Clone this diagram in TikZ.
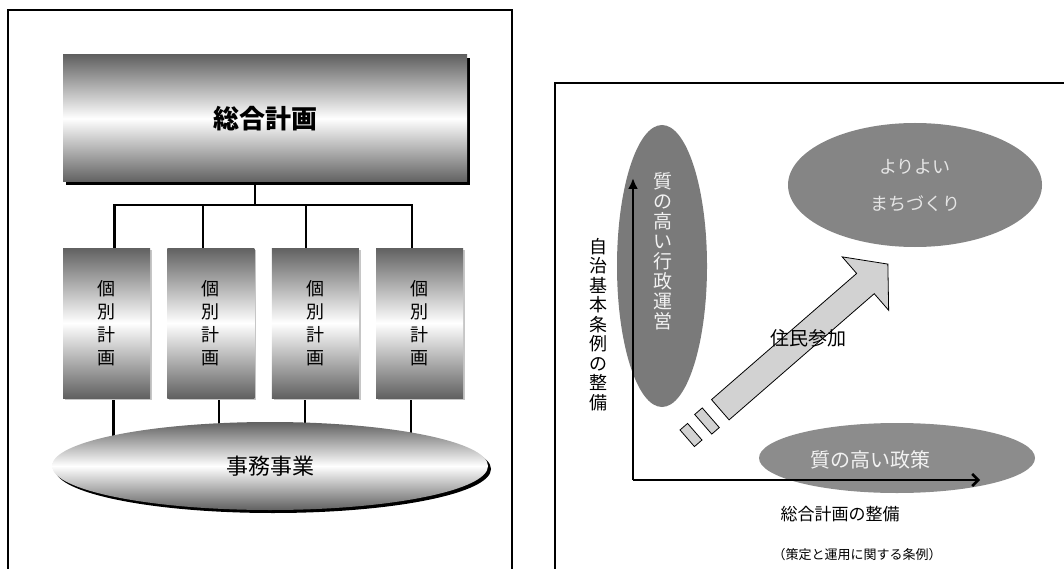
\documentclass[tikz,border=0pt]{standalone}
\usepackage{fontspec}
\newfontfamily\jp{Noto Sans CJK JP}
\usetikzlibrary{positioning,arrows.meta,calc,shapes.geometric,shapes.arrows,shadows,backgrounds}
\tikzset{
    every node/.style={font=\jp},
    frame/.style={line width=1.6pt},
    shadefill/.style={top color=black!62,bottom color=black!62,middle color=white},
    mainplan/.style={rectangle,shadefill,
        minimum width=404pt,minimum height=127pt,inner sep=0pt,
        font=\jp\fontsize{26}{30}\selectfont\bfseries,
        drop shadow={shadow xshift=3pt,shadow yshift=-3pt,fill=black,opacity=1}},
    subplan/.style={rectangle,shadefill,
        minimum width=87pt,minimum height=150pt,inner sep=0pt,align=center,
        font=\jp\fontsize{18}{23}\selectfont,
        drop shadow={shadow xshift=2pt,shadow yshift=-2pt,fill=gray!45,opacity=1}},
    jimu/.style={ellipse,shadefill,
        minimum width=436pt,minimum height=88pt,inner sep=0pt,
        font=\jp\fontsize{22}{26}\selectfont,
        drop shadow={shadow xshift=3pt,shadow yshift=-3pt,fill=black,opacity=1}},
    tree/.style={line width=2.2pt},
    blob/.style={ellipse,inner sep=0pt},
    vlabel/.style={align=center,inner sep=0pt},
    axis/.style={line width=2.6pt},
    stepblock/.style={rectangle,draw,thick,fill=gray!35,rotate=41,minimum width=10pt,inner sep=0pt}
}
\begin{document}
\begin{tikzpicture}[x=1pt,y=-1pt]
    \useasboundingbox (0,0) rectangle (1064,569);
    % left: plan hierarchy
    \draw[frame] (8,569) -- (8,10) -- (512,10) -- (512,569);
    \node[mainplan] (sogo) at (265,118.5) {総合計画};
    \node[subplan] (p1) at (106.5,323) {個\\別\\計\\画};
    \node[subplan,right=17pt of p1] (p2) {個\\別\\計\\画};
    \node[subplan,right=17pt of p2] (p3) {個\\別\\計\\画};
    \node[subplan,right=17pt of p3] (p4) {個\\別\\計\\画};
    \node[jimu] (jm) at (270,466) {事務事業};
    \coordinate (fork) at (255,205);
    \begin{scope}[on background layer]
        \draw[tree] (sogo.south -| fork) -- (fork);
        \draw[tree] ([xshift=8pt]p1.north) |- (fork);
        \draw[tree] ([xshift=-8pt]p2.north) |- (fork);
        \draw[tree] ([xshift=-9pt]p3.north) |- (fork);
        \draw[tree] ([xshift=-8pt]p4.north) |- (fork);
        \draw[tree] ([xshift=7pt]p1.south) -- ([xshift=7pt]p1.south |- jm.center);
        \draw[tree] ([xshift=8pt]p2.south) -- ([xshift=8pt]p2.south |- jm.center);
        \draw[tree] ([xshift=-10pt]p3.south) -- ([xshift=-10pt]p3.south |- jm.center);
        \draw[tree] ([xshift=-9pt]p4.south) -- ([xshift=-9pt]p4.south |- jm.center);
    \end{scope}

    % right: axes
    \draw[frame,line width=1.3pt] (555,569) -- (555,83) -- (1064,83);
    \node[blob,fill=black!52,minimum width=90pt,minimum height=282pt] (gyosei) at (662,266) {};
    \node[vlabel,text=gray!10,font=\jp\fontsize{19}{20}\selectfont] (gyoseitxt) at (663,251) {質\\の\\高\\い\\行\\政\\運\\営};
    \node[blob,fill=black!48,minimum width=254pt,minimum height=124pt,align=center,
        text=gray!20,font=\jp\fontsize{18}{37}\selectfont] (machi) at (915,185) {よりよい\\まちづくり};
    \node[blob,fill=black!45,minimum width=276pt,minimum height=70pt] (seisaku) at (897,458) {};
    \node[text=gray!10,font=\jp\fontsize{20}{24}\selectfont] (seisakutxt) at (870,460) {質の高い政策};
    \coordinate (o) at (633,480);
    \coordinate (ytip) at (633,178);
    \coordinate (xtip) at (980,480);
    \draw[axis,-{Latex[length=11pt,width=10pt]}] (o) -- (ytip);
    \draw[axis,-{Straight Barb[length=6pt,width=12pt]}] (o) -- (xtip);
    \node[vlabel,font=\jp\fontsize{18}{19.5}\selectfont] (jichi) at (598,324.5) {自\\治\\基\\本\\条\\例\\の\\整\\備};
    \node[font=\jp\fontsize{17}{20}\selectfont] (sogoseibi) at (840,514) {総合計画の整備};
    \node[font=\jp\fontsize{13}{16}\selectfont] (jorei) at (857,555) {（策定と運用に関する条例）};

    % participation arrow
    \node[single arrow,draw,thick,fill=gray!35,rotate=41,anchor=tail,
        minimum height=222pt,minimum width=0pt,inner xsep=0pt,inner ysep=13pt,
        single arrow head extend=22pt,single arrow tip angle=100] (sanka) at (720,410) {};
    \node[stepblock,minimum height=26pt] (blk2) at ($(sanka.tail)+(-13,11)$) {};
    \node[stepblock,minimum height=22pt] (blk1) at ($(sanka.tail)+(-29,25)$) {};
    \node[font=\jp\fontsize{19}{22}\selectfont] (sankatxt) at (808,338) {住民参加};
\end{tikzpicture}
\end{document}
